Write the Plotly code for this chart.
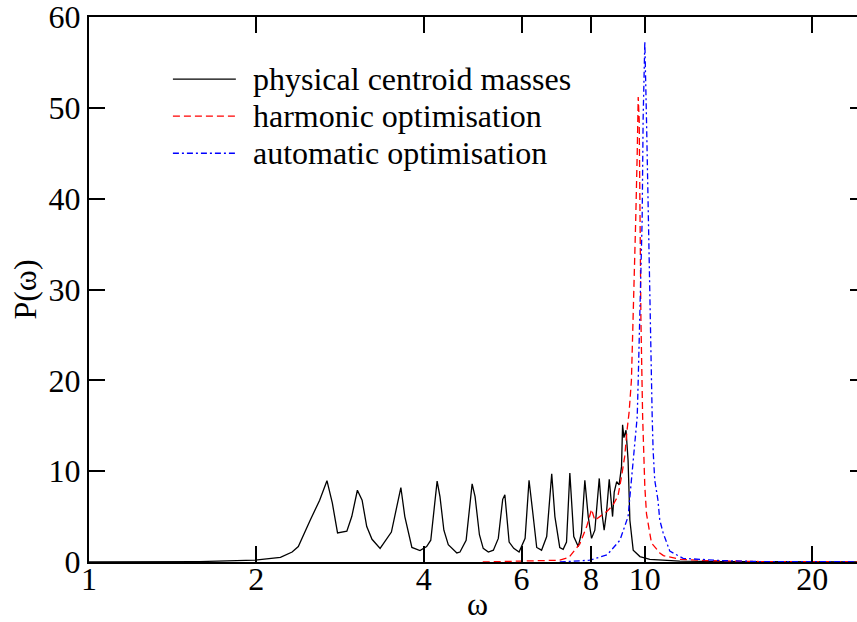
import math
import plotly.graph_objects as go

# ---- data ----
black_w = [1.0, 1.29, 1.58, 1.99, 2.21, 2.32, 2.38, 2.50, 2.60, 2.68, 2.74, 2.80, 2.91, 2.97, 3.04, 3.10,
           3.16, 3.23, 3.34, 3.50, 3.64, 3.70, 3.81, 3.94, 4.05, 4.12, 4.23, 4.28, 4.35, 4.43, 4.59, 4.65,
           4.77, 4.89, 4.95, 5.04, 5.12, 5.23, 5.34, 5.45, 5.55, 5.60, 5.70, 5.81, 5.94, 6.09, 6.19, 6.28,
           6.39, 6.52, 6.66, 6.80, 6.89, 7.03, 7.13, 7.23, 7.33, 7.45, 7.59, 7.69, 7.80, 7.91, 8.02, 8.13,
           8.28, 8.36, 8.45, 8.53, 8.63, 8.75, 8.81, 8.90, 8.99, 9.08, 9.12, 9.17, 9.25, 9.33, 9.40, 9.53,
           9.80, 10.21, 11.56, 13.64, 25.0]
black_p = [0.0, 0.0, 0.05, 0.2, 0.5, 1.1, 1.7, 4.6, 6.8, 8.95, 6.5, 3.2, 3.4, 5.0, 7.9, 6.8,
           3.9, 2.5, 1.5, 3.3, 8.2, 5.0, 1.6, 1.25, 1.7, 2.4, 8.9, 7.2, 3.5, 1.9, 1.0, 1.1,
           2.4, 8.6, 7.2, 3.0, 1.5, 1.1, 1.3, 2.6, 6.9, 7.4, 2.2, 1.5, 1.1, 2.6, 9.0, 5.7,
           1.6, 1.3, 2.8, 9.7, 5.0, 1.6, 1.4, 2.2, 9.8, 2.8, 1.7, 3.2, 9.0, 5.0, 2.6, 3.5,
           9.2, 5.7, 3.5, 5.4, 9.1, 5.0, 7.7, 8.85, 8.5, 10.5, 15.1, 13.7, 14.5, 11.2, 4.6, 1.3,
           0.6, 0.3, 0.1, 0.05, 0.0]

red_w = [5.11, 7.03, 7.30, 7.64, 7.86, 8.02, 8.13, 8.30, 8.56, 8.77, 8.95, 9.08, 9.20, 9.29, 9.37,
         9.46, 9.53, 9.63, 9.69, 9.73, 9.77, 9.80, 9.84, 9.91, 10.0, 10.07, 10.28, 10.64, 10.8,
         11.56, 12.91, 16.1, 25.0]
red_p = [0.0, 0.2, 0.5, 2.0, 3.9, 5.8, 4.6, 5.0, 5.6, 6.3, 7.3, 9.4, 11.6, 14.5, 16.5,
         20.0, 26.7, 37.7, 45.0, 51.2, 48.7, 37.7, 26.7, 16.0, 8.3, 5.3, 2.1, 1.0, 0.7,
         0.3, 0.15, 0.05, 0.02]

blue_w = [7.03, 7.96, 8.56, 9.02, 9.33, 9.53, 9.69, 9.73, 9.80, 9.89, 9.93, 10.0, 10.07, 10.14,
          10.21, 10.28, 10.31, 10.35, 10.42, 10.56, 10.64, 10.79, 11.09, 11.72, 13.81, 16.1, 25.0]
blue_p = [0.0, 0.2, 0.8, 2.4, 5.0, 10.9, 16.0, 20.0, 26.7, 37.7, 48.7, 57.3, 48.7, 37.7,
          26.7, 18.0, 16.0, 12.3, 9.0, 6.8, 4.6, 3.2, 1.2, 0.4, 0.15, 0.05, 0.02]

series_names = ["physical centroid masses", "harmonic optimisation", "automatic optimisation"]
x_tickvals = [1, 2, 4, 6, 8, 10, 20]
x_ticktext = ["1", "2", "4", "6", "8", "10", "20"]
y_tickvals = [0, 10, 20, 30, 40, 50, 60]

FONT = "Liberation Serif"
colors = ["black", "red", "blue"]
dashes = ["solid", "7px,4px", "6px,3px,2px,3px"]

fig = go.Figure()
for w, p, name, c, d in zip([black_w, red_w, blue_w], [black_p, red_p, blue_p], series_names, colors, dashes):
    fig.add_trace(go.Scatter(x=w, y=p, mode="lines", name=name, showlegend=False,
                             line=dict(color=c, width=1.3, dash=d)))

# legend drawn by hand so the line samples and spacing match the reference
leg_y = [0.886, 0.818, 0.750]
for name, c, d, yy in zip(series_names, colors, dashes, leg_y):
    fig.add_shape(type="line", xref="paper", yref="paper", x0=0.108, x1=0.189, y0=yy, y1=yy,
                  line=dict(color=c, width=1.3, dash=d))
    fig.add_annotation(xref="paper", yref="paper", x=0.209, y=yy, text=name, showarrow=False,
                       xanchor="left", yanchor="middle", font=dict(family=FONT, size=32, color="black"))

axis_common = dict(showgrid=False, zeroline=False, showline=True, linecolor="black", linewidth=2,
                   mirror="ticks", ticks="inside", ticklen=16, tickwidth=1.5, tickcolor="black",
                   automargin=False, ticklabeloverflow="allow",
                   tickfont=dict(family=FONT, size=32, color="black"))

fig.update_layout(
    width=867, height=622, autosize=False,
    margin=dict(l=89, r=1, t=17, b=60),
    paper_bgcolor="white", plot_bgcolor="white",
    xaxis=dict(type="log", range=[0, math.log10(25)], tickvals=x_tickvals, ticktext=x_ticktext,
               ticklabelstandoff=-12,
               title=dict(text="ω", font=dict(family=FONT, size=32, color="black"), standoff=12),
               **axis_common),
    yaxis=dict(range=[0, 60], tickvals=y_tickvals,
               title=dict(text="P(ω)", font=dict(family=FONT, size=32, color="black"), standoff=2),
               **axis_common),
)

fig.write_html("out.html", config={"displayModeBar": False},
               post_script="document.documentElement.style.overflow='hidden';document.body.style.overflow='hidden';")
